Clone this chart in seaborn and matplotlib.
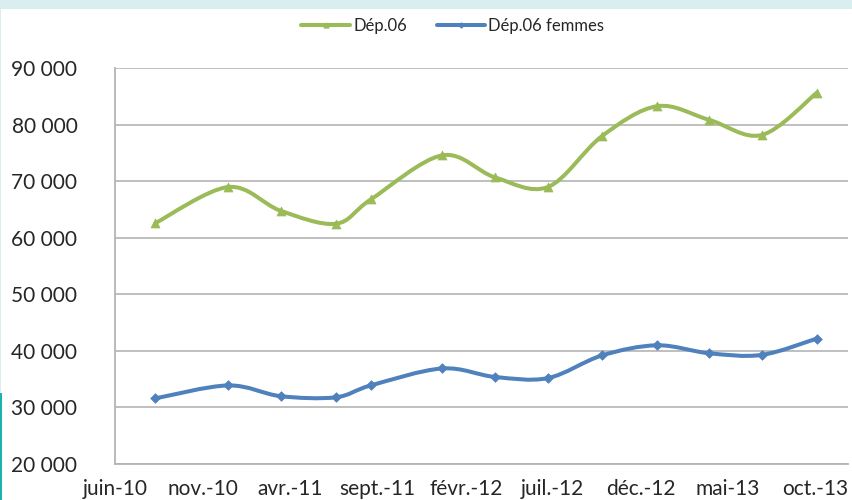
import numpy as np
import pandas as pd
import matplotlib
matplotlib.use("Agg")
import matplotlib.pyplot as plt
import matplotlib.dates as mdates
from matplotlib.path import Path
from matplotlib.patches import PathPatch, Rectangle
from matplotlib.lines import Line2D
from matplotlib.ticker import FuncFormatter, FixedLocator
import seaborn as sns

# ---------------- data ----------------
dates = ["2010-08-10", "2010-12-15", "2011-03-16", "2011-06-20", "2011-08-20",
         "2011-12-22", "2012-03-23", "2012-06-23", "2012-09-25", "2012-12-30",
         "2013-03-30", "2013-06-30", "2013-10-04"]
dep06 = [62600, 69000, 64800, 62500, 66800, 74600, 70700, 69000, 78000,
         83300, 80900, 78200, 85700]
dep06_femmes = [31600, 33900, 32000, 31800, 33900, 36900, 35400, 35200,
                39200, 41000, 39600, 39300, 42200]
series_names = ["Dép.06", "Dép.06 femmes"]
tick_dates = ["2010-06-01", "2010-11-01", "2011-04-01", "2011-09-01",
              "2012-02-01", "2012-07-01", "2012-12-01", "2013-05-01",
              "2013-10-01"]
tick_labels = ["juin-10", "nov.-10", "avr.-11", "sept.-11", "févr.-12",
               "juil.-12", "déc.-12", "mai-13", "oct.-13"]
y_ticks = [20000, 30000, 40000, 50000, 60000, 70000, 80000, 90000]

# ---------------- style ----------------
sns.set_theme(style="white")
plt.rcParams["font.family"] = ["Lato", "DejaVu Sans"]

GREEN = "#9bbb59"
BLUE = "#4f81bd"
GRID = "#b4b4b4"
TEXT = "#262626"

df = pd.DataFrame({
    "date": pd.to_datetime(dates * 2),
    "value": dep06 + dep06_femmes,
    "series": [series_names[0]] * len(dates) + [series_names[1]] * len(dates),
})

fig = plt.figure(figsize=(8.53, 5.0), dpi=100, facecolor="white")
ax = fig.add_axes([115 / 853, 1 - 464 / 500, (848 - 115) / 853, (464 - 68.3) / 500])
ax.set_facecolor("white")

# decorative frame strips of the original screenshot
fig.patches.append(Rectangle((0, 1 - 8.5 / 500), 1, 8.5 / 500, transform=fig.transFigure,
                             facecolor="#d9eef1", edgecolor="none", zorder=0))
fig.patches.append(Rectangle((0, 107 / 500), 1.5 / 853, (393 - 8.5) / 500, transform=fig.transFigure,
                             facecolor="#d9eef1", edgecolor="none", zorder=0))
fig.patches.append(Rectangle((0, 0), 2.2 / 853, 107 / 500, transform=fig.transFigure,
                             facecolor="#1cb0b0", edgecolor="none", zorder=0))

palette = {series_names[0]: GREEN, series_names[1]: BLUE}
markers = {series_names[0]: "^", series_names[1]: "D"}
sizes_map = {series_names[0]: 42, series_names[1]: 24}

# markers through seaborn
for name in series_names:
    sub = df[df["series"] == name]
    sns.scatterplot(data=sub, x="date", y="value", color=palette[name],
                    marker=markers[name], s=sizes_map[name], edgecolor=palette[name],
                    linewidth=0.5, legend=False, ax=ax, zorder=4)


def smooth_path(xs, ys):
    """Excel-like smoothed line: cubic Bezier through the points (Catmull-Rom tangents)."""
    pts = np.column_stack([xs, ys]).astype(float)
    n = len(pts)
    verts = [pts[0]]
    codes = [Path.MOVETO]
    for i in range(n - 1):
        p0 = pts[i - 1] if i > 0 else pts[i]
        p1 = pts[i]
        p2 = pts[i + 1]
        p3 = pts[i + 2] if i + 2 < n else pts[i + 1]
        c1 = p1 + (p2 - p0) / 6.0
        c2 = p2 - (p3 - p1) / 6.0
        verts += [c1, c2, p2]
        codes += [Path.CURVE4] * 3
    return Path(verts, codes)


xnum = mdates.date2num(pd.to_datetime(dates))
for name, vals in zip(series_names, [dep06, dep06_femmes]):
    patch = PathPatch(smooth_path(xnum, vals), facecolor="none", edgecolor=palette[name],
                      lw=2.9, capstyle="round", joinstyle="round", zorder=3)
    ax.add_patch(patch)

# axes
x0 = pd.Timestamp("2010-06-01")
ax.set_xlim(mdates.date2num(x0), mdates.date2num(x0 + pd.Timedelta(days=1275)))
ax.set_ylim(20000, 90000)
ax.xaxis.set_major_locator(FixedLocator(mdates.date2num(pd.to_datetime(tick_dates))))
ax.set_xticklabels(tick_labels)
ax.set_yticks(y_ticks)
ax.yaxis.set_major_formatter(FuncFormatter(lambda v, p: f"{int(v):,}".replace(",", " ")))
ax.set_xlabel("")
ax.set_ylabel("")

ax.grid(axis="y", color=GRID, linewidth=1.2)
ax.grid(axis="x", visible=False)
ax.set_axisbelow(True)
for s in ["top", "right"]:
    ax.spines[s].set_visible(False)
for s in ["left", "bottom"]:
    ax.spines[s].set_color(GRID)
    ax.spines[s].set_linewidth(1.3)
ax.tick_params(axis="both", length=0, labelsize=15, labelcolor=TEXT)
ax.tick_params(axis="y", pad=27)
ax.tick_params(axis="x", pad=11)

handles = [Line2D([], [], color=palette[n], lw=2.9, marker=markers[n],
                  markersize=3.5 if n == series_names[0] else 2.5) for n in series_names]
fig.legend(handles, series_names, loc="center", bbox_to_anchor=(0.531, 0.948), ncol=2,
           frameon=False, fontsize=12, handlelength=2.9, handletextpad=0.2,
           columnspacing=1.8, labelcolor=TEXT)

fig.savefig("out.png", dpi=100, facecolor="white")
